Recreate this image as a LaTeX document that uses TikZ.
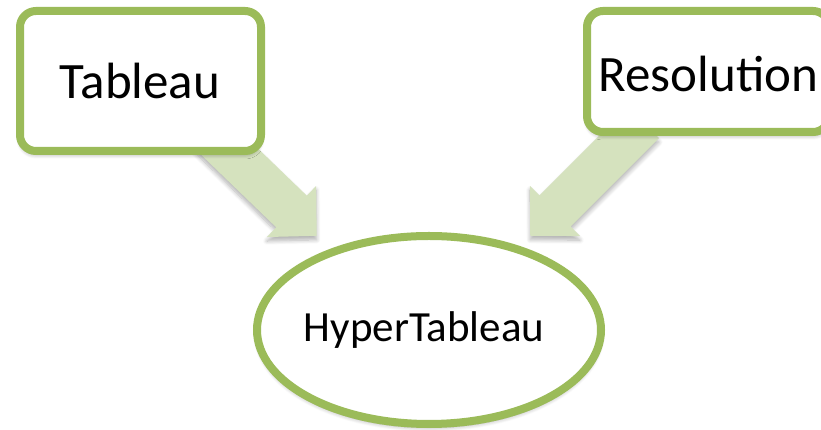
\documentclass[tikz,border=0pt]{standalone}
\usepackage{fontspec}
\setmainfont{Carlito}
\usetikzlibrary{shapes.geometric,shadows.blur}
\definecolor{olivegreen}{HTML}{9BBB59}
\definecolor{palegreen}{HTML}{D5E2BE}
\tikzset{
  soft/.style={blur shadow={shadow xshift=0pt, shadow yshift=-4pt, shadow blur steps=8, shadow opacity=30, shadow blur radius=4pt}},
  termbox/.style={draw=olivegreen, line width=8pt, fill=white, rounded corners=16pt, soft},
  termoval/.style={ellipse, draw=olivegreen, line width=8pt, fill=white, soft, inner sep=0pt},
  blockarrow/.style={fill=palegreen, draw=none, soft},
  lbl/.style={anchor=base, inner sep=0pt, text=black},
}
\begin{document}
\begin{tikzpicture}[x=1pt, y=1pt]
  \useasboundingbox (0,0) rectangle (821,430);
  \clip (0,0) rectangle (821,430);

  % block arrows (drawn first so the boxes cover their tails)
  \begin{scope}[shift={(291.5,218.5)}, rotate=-44]
    \coordinate (ltip) at (35,0);
    \path[blockarrow] (-125,22) -- (0,22) -- (0,35.5) -- (ltip) -- (0,-35.5) -- (0,-22) -- (-125,-22) -- cycle;
  \end{scope}
  \begin{scope}[shift={(555,219)}, rotate=-135]
    \coordinate (rtip) at (35,0);
    \path[blockarrow] (-125,22) -- (0,22) -- (0,35.5) -- (rtip) -- (0,-35.5) -- (0,-22) -- (-125,-22) -- cycle;
  \end{scope}

  % source boxes
  \node[termbox, minimum width=241pt, minimum height=140pt] (tableau) at (140.5,349) {};
  \node[termbox, minimum width=242pt, minimum height=121pt] (resolution) at (708,358.5) {};

  % target ellipse
  \node[termoval, minimum width=344pt, minimum height=188pt] (hyper) at (429,100) {};

  % labels
  \node[lbl, font=\fontsize{51}{57}\selectfont] (tabtxt) at (140,331) {Tableau};
  \node[lbl, font=\fontsize{51}{57}\selectfont] (restxt) at (708.5,338) {Resolution};
  \node[lbl, font=\fontsize{43}{49}\selectfont] (hyptxt) at (424,88) {HyperTableau};
\end{tikzpicture}
\end{document}
